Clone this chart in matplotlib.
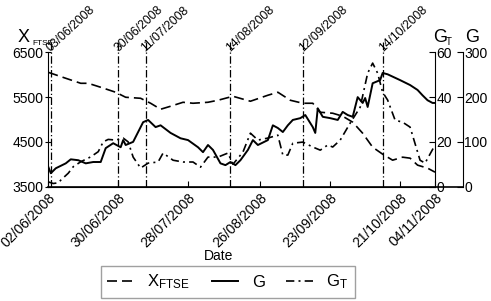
import matplotlib
matplotlib.use('Agg')
import matplotlib.pyplot as plt
import matplotlib.dates as mdates
import numpy as np
import pandas as pd

plt.rcParams['font.family'] = ['Liberation Sans', 'DejaVu Sans']
plt.rcParams['mathtext.default'] = 'regular'

start = pd.Timestamp('2008-06-02')
end = pd.Timestamp('2008-11-04')

# days counted from 02/06/2008
ftse_days = [0, 7, 13, 16, 21, 27, 31, 37, 41, 45, 49, 54, 58, 64, 68, 74, 81, 88, 92, 97,
             102, 106, 109, 114, 118, 122, 126, 130, 134, 138, 142, 145, 148, 152, 155]
ftse_vals = [6054, 5921, 5809, 5809, 5720, 5609, 5497, 5474, 5363, 5229, 5296, 5385, 5363, 5385,
             5430, 5519, 5408, 5542, 5609, 5430, 5363, 5363, 5162, 5140, 5073, 4940, 4693, 4381,
             4225, 4091, 4158, 4136, 3980, 3913, 3823]

g_days = [0, 1, 3, 7, 9, 12, 15, 18, 21, 23, 26, 29, 30, 31, 34, 38, 40, 43, 45, 49, 53, 56,
          60, 62, 64, 66, 69, 71, 73, 75, 77, 80, 82, 84, 88, 90, 92, 94, 96, 98, 101, 103, 106,
          107, 108, 110, 113, 116, 118, 120, 122, 124, 126, 127, 128, 130, 133, 134, 136, 141,
          145, 148, 150, 152, 154, 155]
g_vals = [44, 30, 41, 52, 61, 59, 52, 55, 55, 86, 97, 88, 104, 93, 100, 144, 149, 133, 137, 120,
          108, 104, 88, 77, 93, 82, 52, 48, 55, 48, 59, 82, 104, 93, 104, 137, 131, 122, 137, 149,
          153, 160, 133, 120, 175, 156, 153, 149, 167, 160, 156, 200, 187, 198, 178, 231, 238,
          254, 251, 238, 227, 216, 204, 193, 187, 187]

gt_days = [0, 2, 4, 5, 8, 10, 13, 17, 20, 22, 24, 27, 30, 32, 34, 37, 40, 44, 46, 50, 54, 58,
           61, 64, 68, 72, 74, 78, 81, 84, 88, 92, 94, 96, 98, 102, 106, 109, 112, 114, 117,
           121, 125, 128, 130, 132, 134, 136, 139, 142, 145, 149, 151, 155]
gt_vals = [2.1, 1.4, 1.7, 2.9, 6.0, 8.9, 11.1, 13.3, 15.6, 20.0, 21.1, 20.8, 21.7, 20.0, 13.2,
           8.3, 10.5, 11.0, 15.0, 11.8, 11.0, 11.0, 8.7, 13.2, 13.2, 15.0, 10.0, 15.4, 23.9, 20.8,
           21.7, 23.0, 14.1, 14.1, 19.4, 19.9, 17.7, 16.3, 18.6, 17.7, 20.8, 28.4, 35.5, 50.7,
           55.2, 50.7, 42.2, 38.7, 29.7, 28.8, 26.6, 11.8, 10.5, 18.6]

tick_dates = ['02/06/2008', '30/06/2008', '28/07/2008', '26/08/2008', '23/09/2008',
              '21/10/2008', '04/11/2008']
event_dates = ['03/06/2008', '30/06/2008', '11/07/2008', '14/08/2008', '12/09/2008',
               '14/10/2008']


def to_dates(days):
    return start + pd.to_timedelta(days, unit='D')


fig = plt.figure(figsize=(4.91, 3.01), dpi=100)
ax = fig.add_axes([0.0984, 0.380, 0.7876, 0.446])
ax_gt = ax.twinx()
ax_g = ax.twinx()

dash = (0, (6, 3))
dashdot = (0, (5, 2.5, 1.2, 2.5))

ax.plot(to_dates(ftse_days), ftse_vals, color='black', lw=1.2, linestyle=dash)
ax_g.plot(to_dates(g_days), g_vals, color='black', lw=1.4, linestyle='-')
ax_gt.plot(to_dates(gt_days), gt_vals, color='black', lw=1.2, linestyle=dashdot)

ax.set_xlim(start, end)
ax.set_ylim(3500, 6500)
ax_gt.set_ylim(0, 60)
ax_g.set_ylim(0, 300)

ax.set_yticks([3500, 4500, 5500, 6500])
ax_gt.set_yticks([0, 20, 40, 60])
ax_g.set_yticks([0, 100, 200, 300])

ticks = [pd.to_datetime(d, format='%d/%m/%Y') for d in tick_dates]
ax.set_xticks(ticks)
ax.xaxis.set_major_formatter(mdates.DateFormatter('%d/%m/%Y'))
plt.setp(ax.get_xticklabels(), rotation=45, ha='right', rotation_mode='anchor')
ax.tick_params(axis='x', direction='in', length=4, labelsize=10, pad=3)
ax.tick_params(axis='y', direction='inout', length=5, labelsize=10, pad=1)
ax_gt.tick_params(axis='y', direction='in', length=4, labelsize=10, pad=1)
ax_g.tick_params(axis='y', direction='in', length=4, labelsize=10, pad=1)

for a in (ax, ax_gt, ax_g):
    a.spines['top'].set_visible(False)
ax.spines['right'].set_visible(False)
ax_gt.spines['left'].set_visible(False)
ax_g.spines['left'].set_visible(False)
ax_g.spines['bottom'].set_visible(False)
ax_gt.spines['bottom'].set_visible(False)
ax_g.spines['right'].set_position(('axes', 1.072))

# bottom axis line runs out to the G spine
ax.plot([0, 1.072], [0, 0], transform=ax.transAxes, color='black', lw=1.2, clip_on=False)

for d in event_dates:
    dt = pd.to_datetime(d, format='%d/%m/%Y')
    ax.axvline(dt, ymin=0, ymax=1.075, color='black', lw=0.9, linestyle=(0, (6, 2, 1, 2)),
               clip_on=False)
    ax.text(dt, 6500, d, rotation=43, rotation_mode='anchor', ha='left', va='baseline',
            fontsize=8.8, clip_on=False)

ax.set_xlabel('Date', fontsize=10)
ax.xaxis.set_label_coords(0.441, -0.466)

# corner axis titles with small subscripts
fig.text(18 / 491, 1 - 42 / 301, 'X', fontsize=13, ha='left', va='baseline')
fig.text(32 / 491, 1 - 45 / 301, 'FTSE', fontsize=6, ha='left', va='baseline')
fig.text(433 / 491, 1 - 42 / 301, 'G', fontsize=13, ha='left', va='baseline')
fig.text(446 / 491, 1 - 45 / 301, 'T', fontsize=7, ha='left', va='baseline')
fig.text(465 / 491, 1 - 42 / 301, 'G', fontsize=13, ha='left', va='baseline')

handles = [plt.Line2D([], [], color='black', lw=1.2, linestyle=dash),
           plt.Line2D([], [], color='black', lw=1.4),
           plt.Line2D([], [], color='black', lw=1.2, linestyle=dashdot)]
leg = fig.legend(handles, [r'$X_{FTSE}$', 'G', r'$G_{T}$'], loc='center',
                 bbox_to_anchor=(0.464, 0.063), ncol=3, fontsize=12, frameon=True,
                 fancybox=False, edgecolor='#888888', handlelength=1.6, columnspacing=1.3,
                 handletextpad=0.8, borderpad=0.4)
leg.get_frame().set_linewidth(1.0)

fig.savefig('out.png', dpi=100)
